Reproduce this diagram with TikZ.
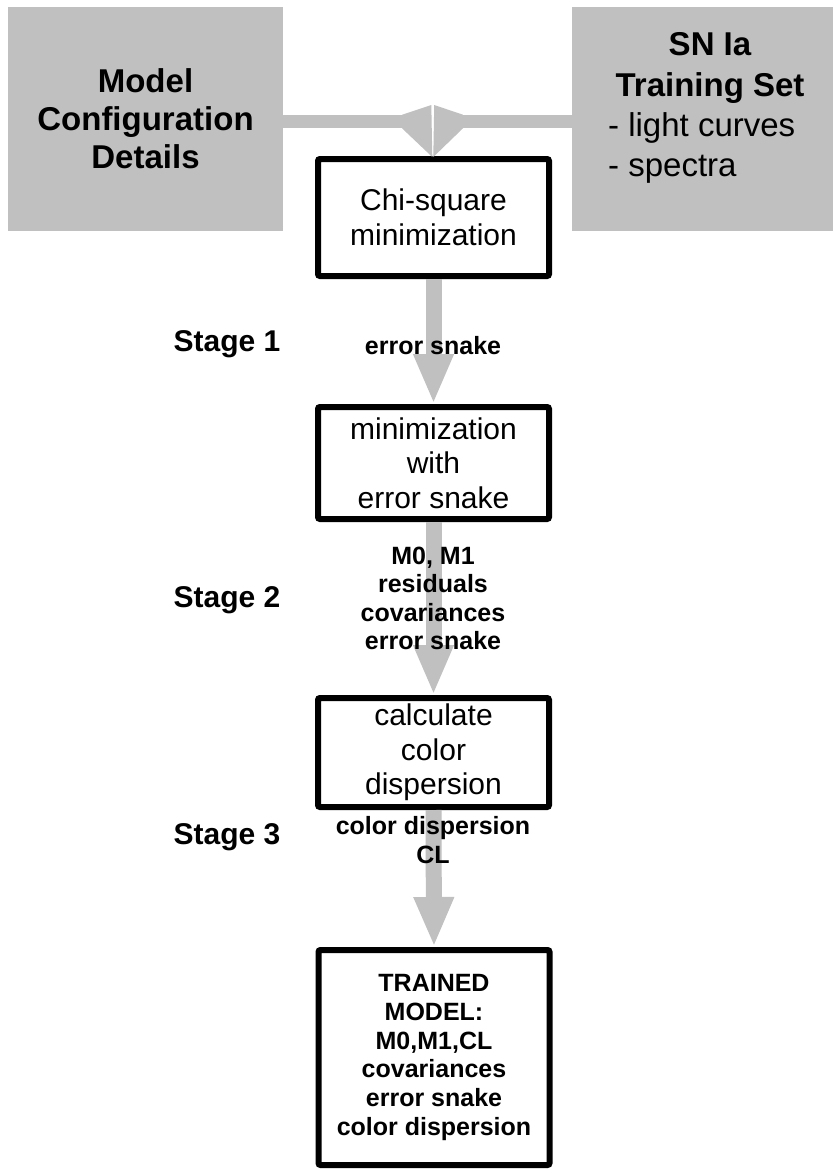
\documentclass[tikz,border=0pt]{standalone}
\usepackage{fontspec}
\setmainfont{Liberation Sans}
\usetikzlibrary{arrows.meta}
\definecolor{boxgray}{HTML}{C0C0C0}
\tikzset{
  graybox/.style={fill=boxgray, draw=none, inner sep=0pt, outer sep=0pt},
  flowbox/.style={draw=black, line width=6pt, rounded corners=2pt, inner sep=0pt, align=center,
                  font=\fontsize{30}{34.5}\selectfont},
  flowarrow/.style={draw=boxgray, line width=16pt, -{Triangle[length=50pt,width=37pt]}},
  joinbar/.style={draw=boxgray, line width=13.5pt},
  stagelabel/.style={font=\fontsize{30}{34}\selectfont\bfseries, inner sep=0pt},
  edgelabel/.style={font=\fontsize{25}{28.5}\selectfont\bfseries, inner sep=0pt, align=center},
}
\begin{document}
\begin{tikzpicture}[x=1pt,y=-1pt]
\useasboundingbox (0,0) rectangle (833,1173);
\fill[white] (0,0) rectangle (833,1173);

% gray input boxes
\node[graybox, minimum width=275pt, minimum height=224pt, align=center,
      font=\fontsize{33}{38}\selectfont\bfseries] (model) at (145.5,119)
      {Model\\Configuration\\Details};
\node[graybox, minimum width=261pt, minimum height=224pt] (trainset) at (702.5,119) {};
\node[inner sep=0pt, align=center, font=\fontsize{33}{40.3}\selectfont\bfseries] (snia) at (710,68)
      {SN Ia\\Training Set};
\node[inner sep=0pt, align=left, anchor=west, font=\fontsize{33}{39.3}\selectfont] (snlist) at (608,148)
      {- light curves\\- spectra};

% flow boxes
\node[flowbox, minimum width=231pt, minimum height=117pt] (chi) at (433.5,217.5)
      {Chi-square\\minimization};
\node[flowbox, minimum width=231pt, minimum height=112pt] (minerr) at (433.5,463)
      {minimization\\with\\error snake};
\node[flowbox, minimum width=231pt, minimum height=109pt] (calc) at (433.5,752.5)
      {calculate\\color\\dispersion};
\node[flowbox, minimum width=231pt, minimum height=215pt,
      font=\fontsize{25}{28.7}\selectfont\bfseries] (trained) at (434,1057.5)
      {TRAINED\\MODEL:\\M0,M1,CL\\covariances\\error snake\\color dispersion};

% merging connectors at top
\coordinate (jl) at (403,121.5);
\coordinate (jr) at (462,121.5);
\draw[joinbar] (model.east |- jl) -- (jl);
\draw[joinbar] (trainset.west |- jr) -- (jr);
\fill[boxgray] (402,114.75) -- (431.3,105) -- (432.3,157) -- (402,128.25) -- cycle;
\fill[boxgray] (463,114.75) -- (434.2,105) -- (433.3,157) -- (463,128.25) -- cycle;

% vertical arrows
\draw[flowarrow] (chi.south) -- (minerr.north);
\draw[flowarrow] (minerr.south) -- (calc.north);
\draw[flowarrow] (calc.south) -- (trained.north);

% edge labels
\node[edgelabel] (l1) at (433,346) {error snake};
\node[edgelabel] (l2) at (433,598.5) {M0, M1\\residuals\\covariances\\error snake};
\node[edgelabel] (l3) at (433,840) {color dispersion\\CL};

% stage labels
\node[stagelabel] (s1) at (227,344.5) {Stage 1};
\node[stagelabel] (s2) at (227,600) {Stage 2};
\node[stagelabel] (s3) at (227,837) {Stage 3};
\end{tikzpicture}
\end{document}
